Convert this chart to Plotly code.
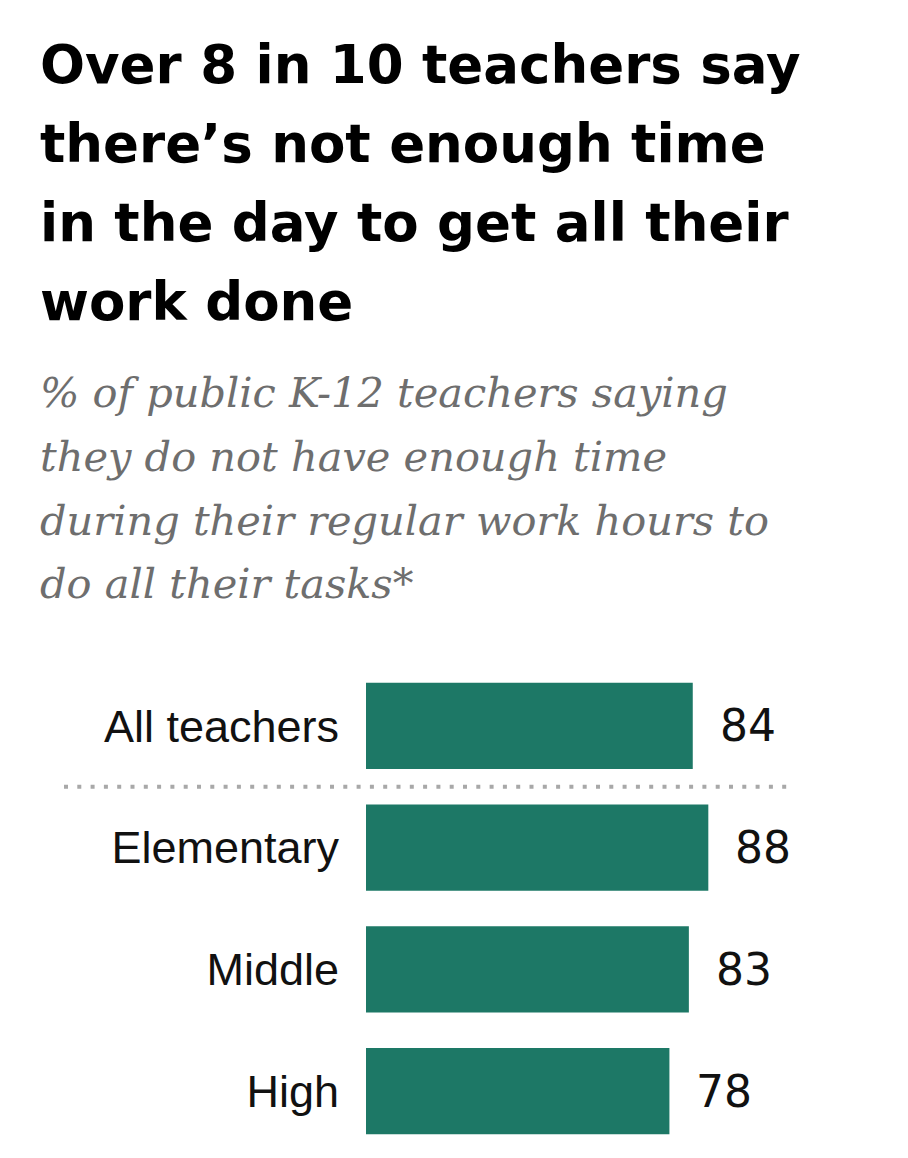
import plotly.graph_objects as go

categories = ["All teachers", "Elementary", "Middle", "High"]
values = [84, 88, 83, 78]
value_labels = ["84", "88", "83", "78"]

title_lines = [
    "Over 8 in 10 teachers say",
    "there\u2019s not enough time",
    "in the day to get all their",
    "work done",
]
subtitle_lines = [
    "% of public K-12 teachers saying",
    "they do not have enough time",
    "during their regular work hours to",
    "do all their tasks*",
]

W, H = 908, 1158
OFF = 8  # page body margin
MT, ML, MR = 665 - OFF, 366 - OFF, 0
MB = H - (1152 - OFF)
BAR_COLOR = "#1d7866"
PX_PER_UNIT = 3.89


def py(pixel):
    # page pixel -> paper y
    return (H - MB - (pixel - OFF)) / (H - MT - MB)


def px(pixel):
    return ((pixel - OFF) - ML) / (W - ML - MR)


fig = go.Figure(
    go.Bar(
        x=values,
        y=categories,
        orientation="h",
        marker=dict(color=BAR_COLOR, line=dict(width=0)),
        hoverinfo="skip",
    )
)

annotations = []
for v, c, t in zip(values, categories, value_labels):
    annotations.append(dict(
        x=v, y=c, xref="x", yref="y", text=t, showarrow=False,
        xanchor="left", yanchor="middle", xshift=25,
        font=dict(family="DejaVu Sans", size=44, color="#111111"),
    ))

title_size = 53
title_baselines = [83, 162, 241, 320]
for line, b in zip(title_lines, title_baselines):
    annotations.append(dict(
        x=px(38), y=py(b - 0.35 * title_size), xref="paper", yref="paper",
        text="<b>" + line + "</b>", showarrow=False,
        xanchor="left", yanchor="middle",
        font=dict(family="DejaVu Sans", size=title_size, color="#000000"),
    ))

sub_size = 41.5
sub_baselines = [407, 471, 535, 598]
for line, b in zip(subtitle_lines, sub_baselines):
    annotations.append(dict(
        x=px(38), y=py(b - 0.35 * sub_size), xref="paper", yref="paper",
        text="<i>" + line + "</i>", showarrow=False,
        xanchor="left", yanchor="middle",
        font=dict(family="DejaVu Serif", size=sub_size, color="#6e6e6e"),
    ))

fig.update_layout(
    width=W, height=H,
    margin=dict(t=MT, b=MB, l=ML, r=MR, pad=0),
    paper_bgcolor="white", plot_bgcolor="white",
    showlegend=False,
    bargap=0.29,
    annotations=annotations,
    shapes=[dict(
        type="line", xref="paper", yref="y",
        x0=px(64), x1=px(790), y0=0.5, y1=0.5,
        line=dict(color="#a8a8a8", width=4, dash="4px,9.3px"),
    )],
    xaxis=dict(range=[0, (W - ML - MR) / PX_PER_UNIT], visible=False, fixedrange=True),
    yaxis=dict(
        autorange="reversed", showgrid=False, zeroline=False, showline=False,
        ticks="outside", ticklen=0, ticklabelstandoff=17,
        tickfont=dict(family="Liberation Sans", size=45, color="#111111"),
        fixedrange=True,
    ),
)

fig.write_html("out.html", config={"displayModeBar": False})
